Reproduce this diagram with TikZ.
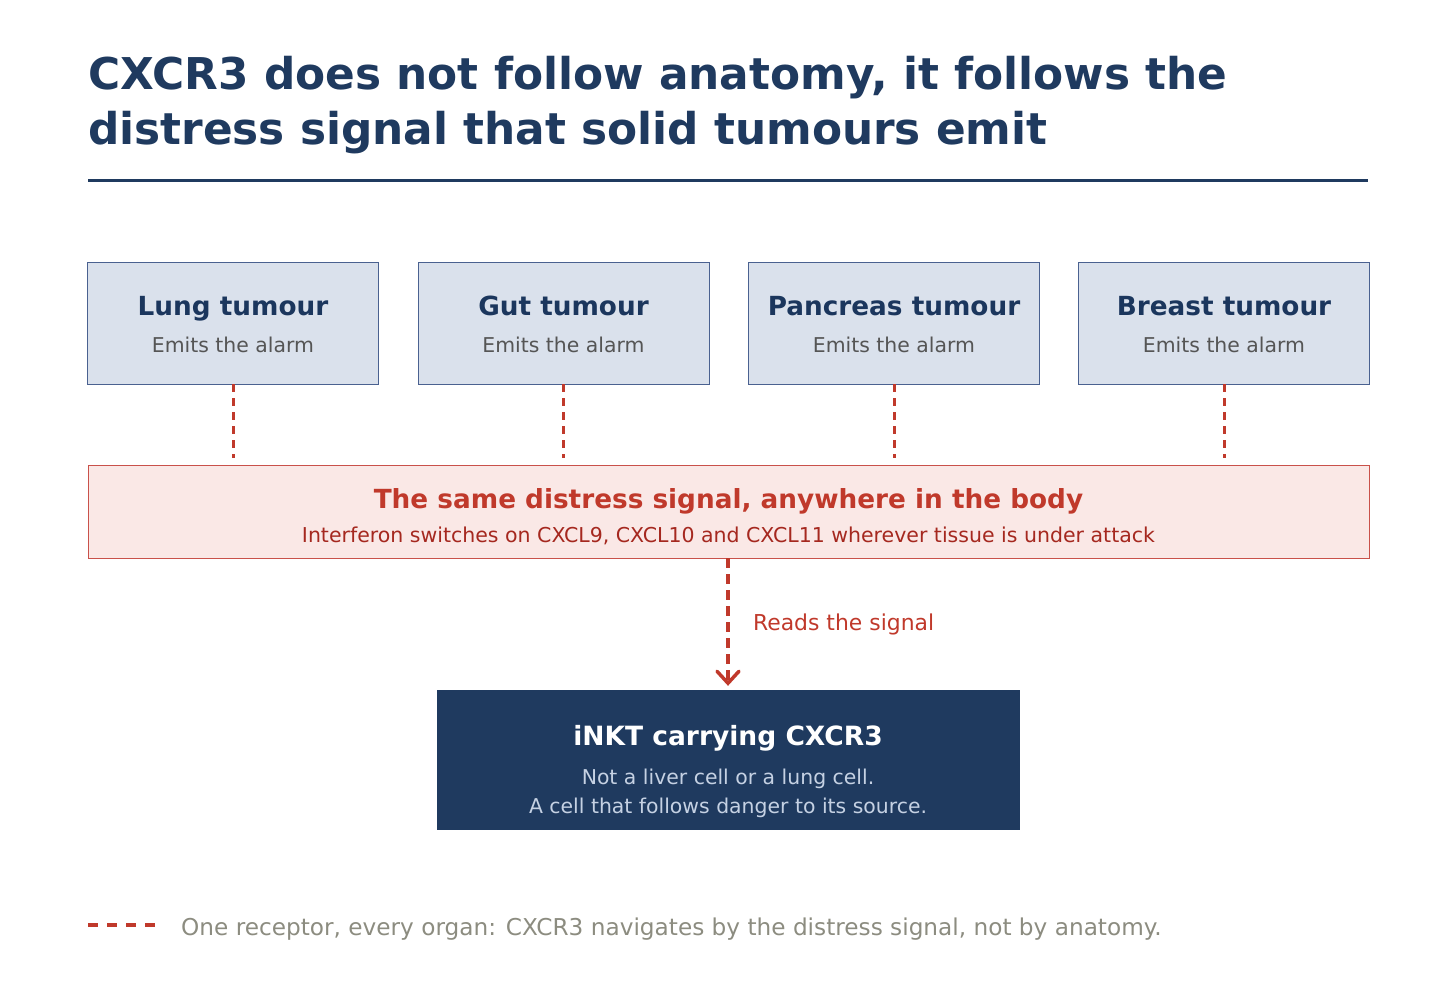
\documentclass[tikz,border=0pt]{standalone}
\usepackage{fontspec}
\setmainfont{DejaVu Sans}
\usetikzlibrary{arrows.meta,positioning}

\definecolor{navy}{HTML}{1F3A5F}
\definecolor{tumourfill}{HTML}{DAE1EC}
\definecolor{tumourline}{HTML}{4A6190}
\definecolor{tumourtext}{HTML}{1B365D}
\definecolor{subgrey}{HTML}{555555}
\definecolor{alarmred}{HTML}{C0392B}
\definecolor{signalfill}{HTML}{FAE8E6}
\definecolor{signalline}{HTML}{C9514A}
\definecolor{signaltext}{HTML}{A5281F}
\definecolor{paleblue}{HTML}{C5D1E3}
\definecolor{notegrey}{HTML}{8C8C80}

\begin{document}
\begin{tikzpicture}[x=1pt,y=-1pt,
  tumour/.style={draw=tumourline, fill=tumourfill, line width=0.8pt,
    minimum width=291pt, minimum height=122pt, inner sep=0pt, align=center,
    text=subgrey, font=\fontsize{20.4}{37}\selectfont},
  signal/.style={draw=signalline, fill=signalfill, line width=0.8pt,
    minimum width=1281pt, minimum height=93pt, inner sep=0pt, align=center,
    text=signaltext, font=\fontsize{20.5}{34}\selectfont},
  inkt/.style={draw=navy, fill=navy, minimum width=582pt, minimum height=139pt,
    inner sep=0pt, align=center, text=paleblue, font=\fontsize{20.4}{29}\selectfont},
  alarm/.style={draw=alarmred, line width=3pt, dash pattern=on 8pt off 6pt},
  reads/.style={draw=alarmred, line width=3.5pt, dash pattern=on 10pt off 6pt,
    -{Straight Barb[length=12pt,width=22pt,line cap=round]}},
  ]

\useasboundingbox (0,0) rectangle (1456,990);

% title
\node[anchor=north west, align=left, inner sep=0pt, text=navy,
  font=\fontsize{43.8}{55}\selectfont\bfseries] (title) at (88,56)
  {CXCR3 does not follow anatomy, it follows the\\
   distress signal that solid tumours emit};
\draw[navy, line width=3pt] (88,180) -- (1368,180);

% tumours
\node[tumour] (lung)     at (233,323)
  {{\fontsize{26.3}{37}\selectfont\bfseries\color{tumourtext}\rule{0pt}{23pt}Lung tumour}\\Emits the alarm};
\node[tumour] (gut)      at (563.5,323)
  {{\fontsize{26.3}{37}\selectfont\bfseries\color{tumourtext}\rule{0pt}{23pt}Gut tumour}\\Emits the alarm};
\node[tumour] (pancreas) at (894,323)
  {{\fontsize{26.3}{37}\selectfont\bfseries\color{tumourtext}\rule{0pt}{23pt}Pancreas tumour}\\Emits the alarm};
\node[tumour] (breast)   at (1224,323)
  {{\fontsize{26.3}{37}\selectfont\bfseries\color{tumourtext}\rule{0pt}{23pt}Breast tumour}\\Emits the alarm};

% the shared signal
\node[signal] (signal) at (728.5,511.5)
  {{\fontsize{26.3}{34}\selectfont\bfseries\color{alarmred}\rule{0pt}{30pt}The same distress signal, anywhere in the body}\\
   Interferon switches on CXCL9, CXCL10 and CXCL11 wherever tissue is under attack};

% the cell
\node[inkt] (inkt) at (728,759.5)
  {{\fontsize{26.5}{37}\selectfont\bfseries\color{white}\rule{0pt}{44pt}iNKT carrying CXCR3}\\[10pt]
   Not a liver cell or a lung cell.\\
   A cell that follows danger to its source.};

\path[alarm, shorten >=7pt]
  (lung.south)     edge (lung.south |- signal.north)
  (gut.south)      edge (gut.south |- signal.north)
  (pancreas.south) edge (pancreas.south |- signal.north)
  (breast.south)   edge (breast.south |- signal.north)
;

\draw[reads, shorten >=4pt] (signal.south -| inkt.north) -- (inkt.north)
  node[midway, right=20pt, text=alarmred, font=\fontsize{21.9}{26}\selectfont] (readlabel) {Reads the signal};

% note
\draw[alarm, line width=3.5pt, dash pattern=on 10pt off 9pt] (88,925) -- (155,925);
\node[anchor=west, inner sep=0pt, text=notegrey, font=\fontsize{23.2}{27}\selectfont] (note) at (181,929)
  {One receptor, every organ: CXCR3 navigates by the distress signal, not by anatomy.};

\end{tikzpicture}
\end{document}
